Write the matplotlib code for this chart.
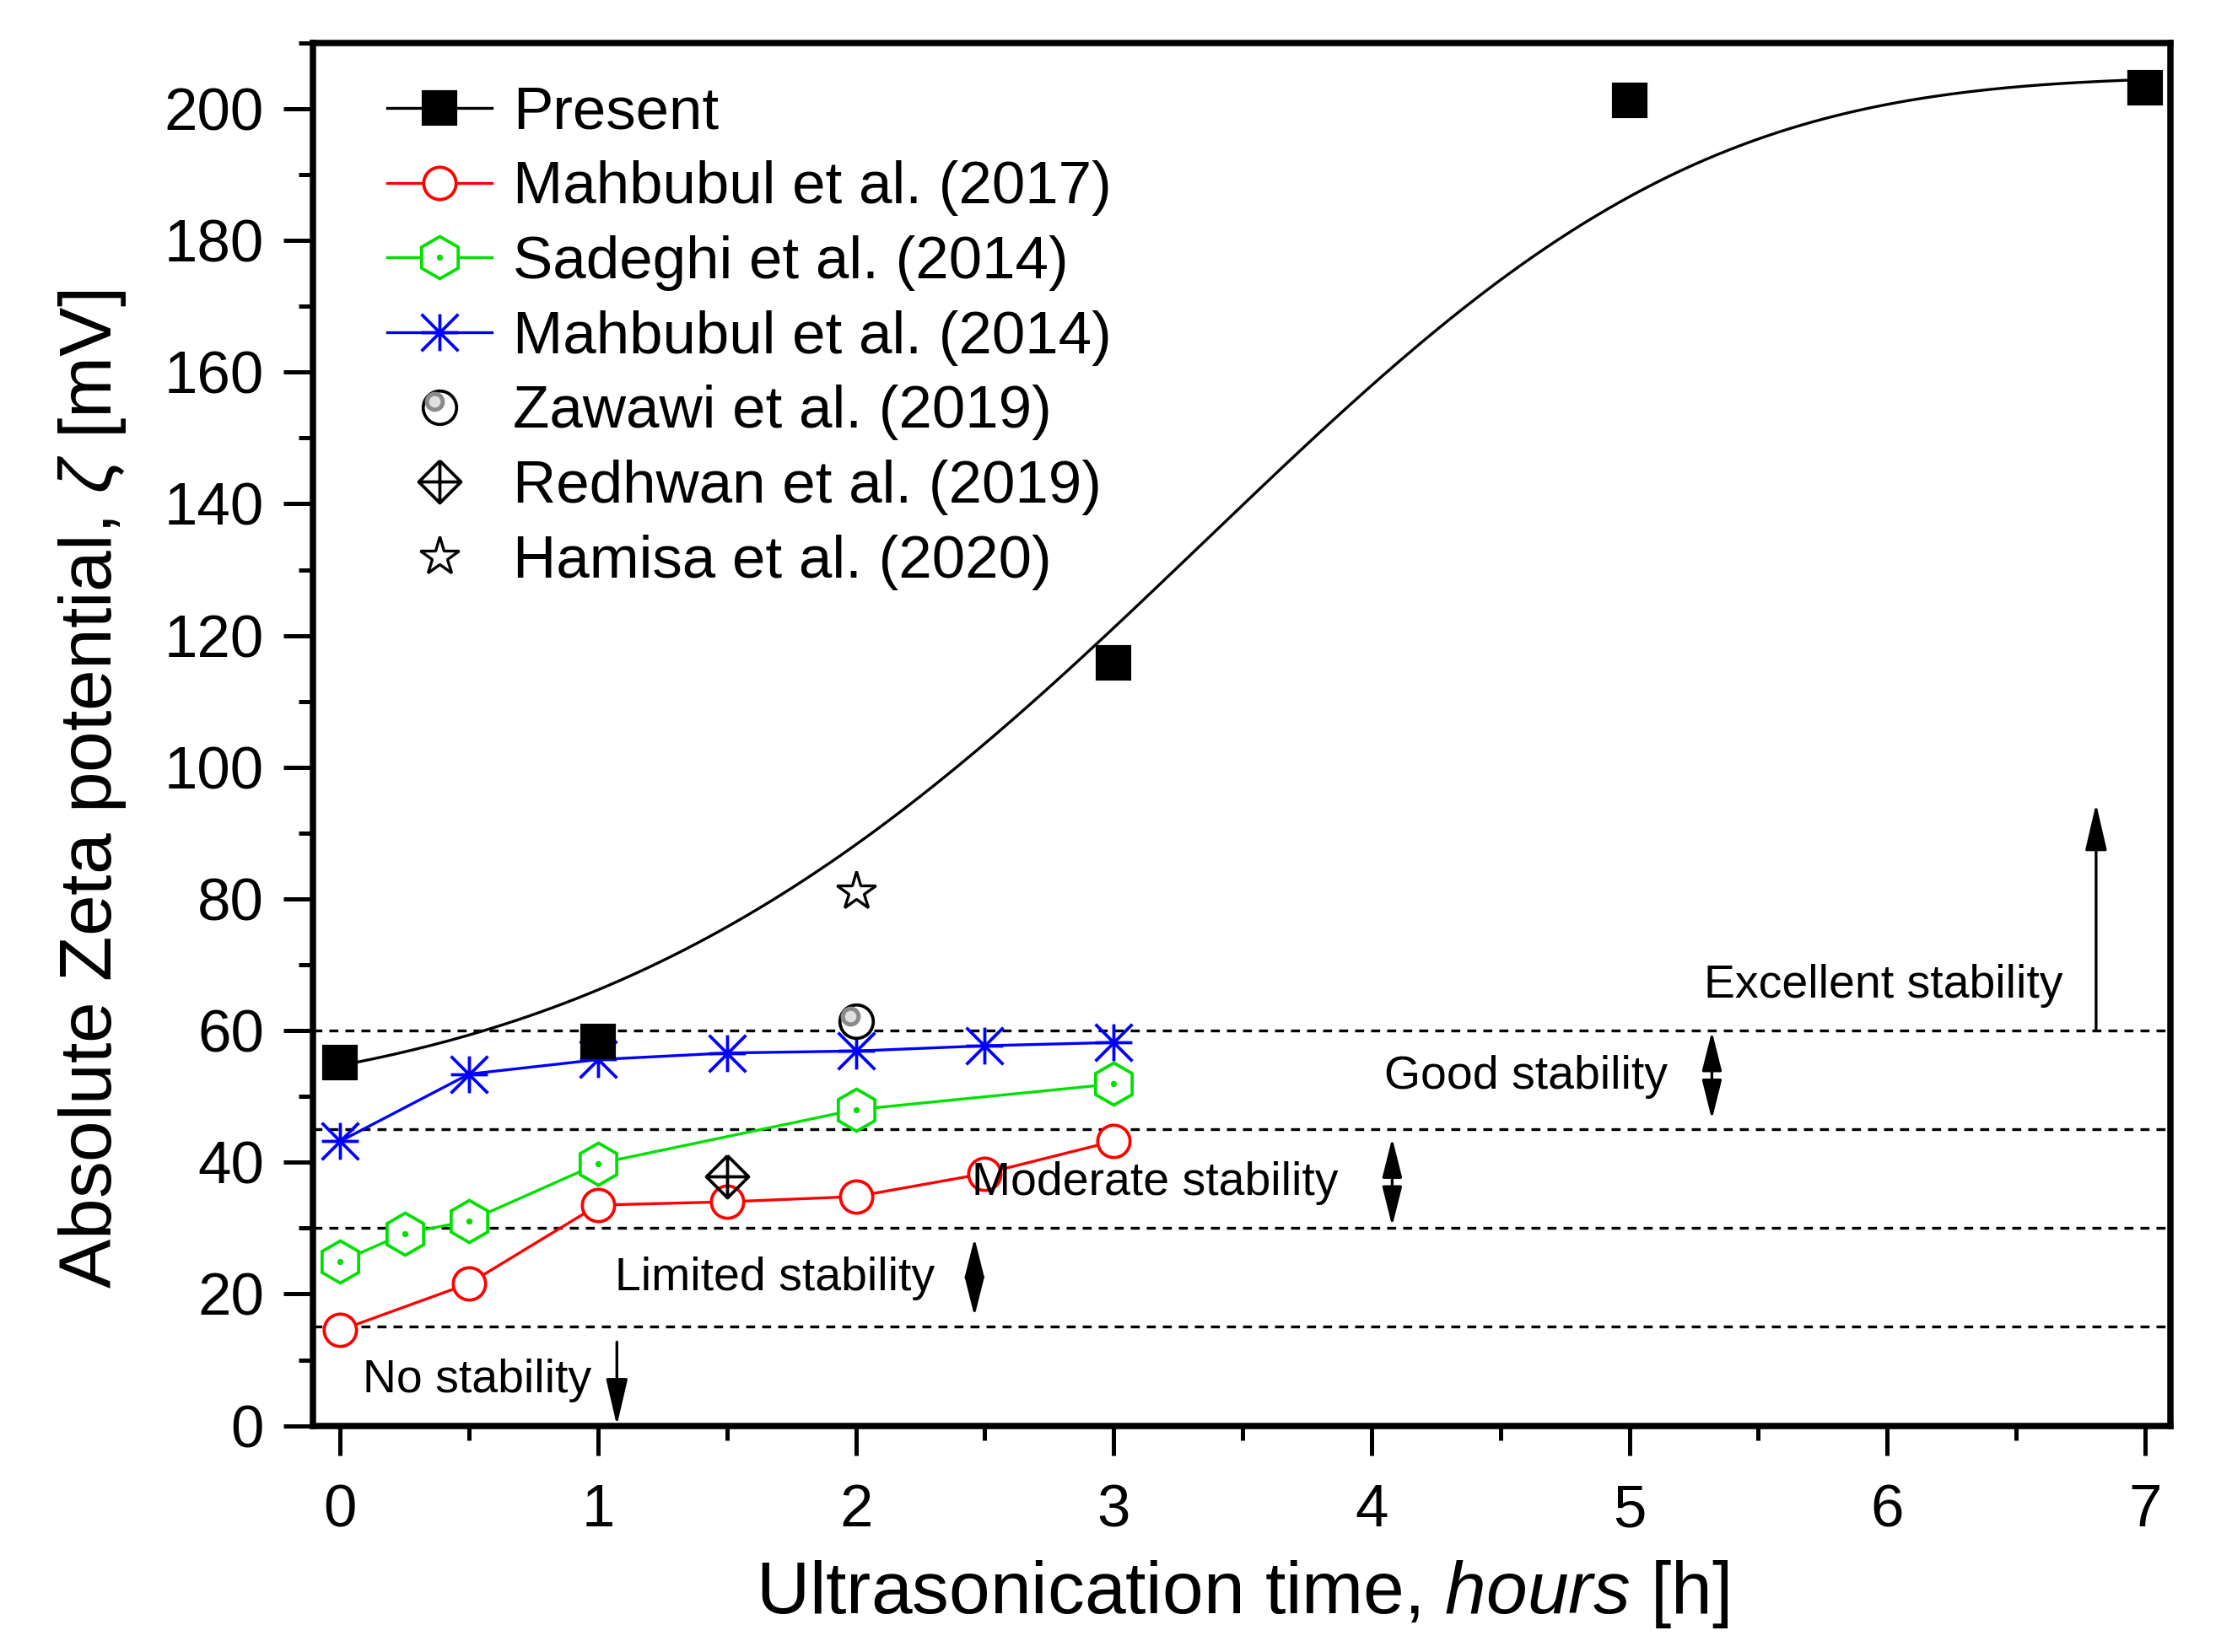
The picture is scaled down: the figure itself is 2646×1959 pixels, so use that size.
import numpy as np
import matplotlib.pyplot as plt
from matplotlib.path import Path
from matplotlib.lines import Line2D
from matplotlib.legend_handler import HandlerTuple
import matplotlib.transforms as mtransforms

plt.rcParams['font.family'] = ['Liberation Sans', 'DejaVu Sans']
plt.rcParams['mathtext.fontset'] = 'custom'
plt.rcParams['mathtext.rm'] = 'Liberation Sans'
plt.rcParams['mathtext.it'] = 'Liberation Sans:italic'

# data
present_x = [0, 1, 3, 5, 7]
present_y = [55.1, 58.3, 115.9, 201.3, 203.2]
# sigmoid fit line drawn for "Present" (Weibull form, parameters)
fit_A1, fit_A2, fit_xs, fit_c, fit_n = 48.6, 204.93, -4.003, 7.708, 4.917

mah17_x = [0, 0.5, 1, 1.5, 2, 2.5, 3]
mah17_y = [14.5, 21.6, 33.5, 34.0, 34.8, 38.3, 43.2]

sad14_x = [0, 0.25, 0.5, 1, 2, 3]
sad14_y = [24.9, 29.2, 31.1, 39.8, 48.0, 51.9]

mah14_x = [0, 0.5, 1, 1.5, 2, 2.5, 3]
mah14_y = [43.2, 53.4, 55.6, 56.6, 56.9, 57.7, 58.2]

zaw_x, zaw_y = [2], [61.4]
red_x, red_y = [1.5], [37.8]
ham_x, ham_y = [2], [81.2]

levels = [15, 30, 45, 60]

fig = plt.figure(figsize=(8.82, 6.53), dpi=300)
ax = fig.add_axes([0.1403, 0.137, 0.8323, 0.837])

# custom markers
ast = Path([(0, -1), (0, 1), (-1, 0), (1, 0), (-1, -1), (1, 1), (-1, 1), (1, -1)],
           [Path.MOVETO, Path.LINETO] * 4)
dia = Path([(0, 1), (1, 0), (0, -1), (-1, 0), (0, 1), (0, 1), (0, -1), (-1, 0), (1, 0)],
           [Path.MOVETO, Path.LINETO, Path.LINETO, Path.LINETO, Path.LINETO,
            Path.MOVETO, Path.LINETO, Path.MOVETO, Path.LINETO])

lw = 0.8
for y in levels:
    ax.axhline(y, color='k', lw=0.8, dashes=(3.2, 2.5), zorder=1)

xf = np.linspace(0, 7, 300)
yf = fit_A1 + (fit_A2 - fit_A1) * (1 - np.exp(-((xf - fit_xs) / fit_c) ** fit_n))
ax.plot(xf, yf, color='k', lw=lw, zorder=2)
ax.plot(present_x, present_y, 's', color='k', ms=9, zorder=5)

green = '#00e000'
ax.plot(mah17_x, mah17_y, '-o', color='red', lw=lw, ms=9.2, mfc='white', mew=0.9, zorder=3)
ax.plot(sad14_x, sad14_y, '-h', color=green, lw=lw, ms=12, mfc='white', mew=0.9, zorder=3)
ax.plot(sad14_x, sad14_y, '.', color=green, ms=1.5, zorder=4)
ax.plot(mah14_x, mah14_y, '-', color='blue', lw=lw, marker=ast, ms=10.5, mew=0.9, zorder=3)

ax.plot(zaw_x, zaw_y, 'o', ms=9.5, mfc='white', mec='k', mew=0.9, zorder=4)
off = mtransforms.offset_copy(ax.transData, fig=fig, x=-1.6, y=1.5, units='points')
ax.plot(zaw_x, zaw_y, 'o', ms=4.5, mfc='#e0e0e0', mec='#8a8a8a', mew=1.2, transform=off, zorder=5)
ax.plot(red_x, red_y, linestyle='none', marker=dia, ms=12, mfc='none', mec='k', mew=0.9, zorder=4)
ax.plot(ham_x, ham_y, '*', ms=11.5, mfc='white', mec='k', mew=0.8, zorder=4)

# stability annotations
tfs = 13.3
ax.text(0.088, 6.9, 'No stability', fontsize=tfs, va='center', ha='left')
ax.text(1.065, 22.3, 'Limited stability', fontsize=tfs, va='center', ha='left')
ax.text(2.45, 36.8, 'Moderate stability', fontsize=tfs, va='center', ha='left')
ax.text(4.05, 53.0, 'Good stability', fontsize=tfs, va='center', ha='left')
ax.text(5.29, 66.8, 'Excellent stability', fontsize=tfs, va='center', ha='left')

ap1 = dict(arrowstyle='-|>,head_length=0.95,head_width=0.22', color='k', lw=0.8,
           shrinkA=0, shrinkB=0, mutation_scale=12)
ap2 = dict(arrowstyle='<|-|>,head_length=0.8,head_width=0.2', color='k', lw=0.8,
           shrinkA=0, shrinkB=0, mutation_scale=12)
ax.annotate('', xy=(1.073, 0), xytext=(1.073, 12.7), arrowprops=ap1)
ax.annotate('', xy=(2.46, 16.6), xytext=(2.46, 28.5), arrowprops=ap2)
ax.annotate('', xy=(4.08, 30.3), xytext=(4.08, 43.7), arrowprops=ap2)
ax.annotate('', xy=(5.32, 46.5), xytext=(5.32, 59.9), arrowprops=ap2)
ax.annotate('', xy=(6.81, 94.5), xytext=(6.81, 60), arrowprops=ap1)

ax.set_xlim(-0.105, 7.10)
ax.set_ylim(0, 210)
ax.set_xticks(range(0, 8))
ax.set_xticks(np.arange(0.5, 7.5, 1), minor=True)
ax.set_yticks(range(0, 201, 20))
ax.set_yticks(range(10, 211, 20), minor=True)
ax.tick_params(which='major', length=8.5, width=1.2, labelsize=17)
ax.tick_params(axis='x', which='major', pad=8)
ax.tick_params(axis='y', which='major', pad=5.5)
ax.tick_params(which='minor', length=4, width=1.2)
for s in ax.spines.values():
    s.set_linewidth(1.8)

ax.set_xlabel('Ultrasonication time, $\\it{hours}$ [h]', fontsize=21, labelpad=5.5)
ax.set_ylabel('Absolute Zeta potential, $\\zeta$ [mV]', fontsize=21)
ax.yaxis.set_label_coords(-0.0996, 0.46)

# legend
h_pres = Line2D([], [], color='k', lw=lw, marker='s', ms=9)
h_m17 = Line2D([], [], color='red', lw=lw, marker='o', ms=9.2, mfc='white', mew=0.9)
h_s14 = Line2D([], [], color=green, lw=lw, marker='h', ms=12, mfc='white', mew=0.9)
h_s14d = Line2D([], [], color=green, lw=0, marker='.', ms=1.5)
h_m14 = Line2D([], [], color='blue', lw=lw, marker=ast, ms=10.5, mew=0.9)
h_zaw = Line2D([], [], lw=0, marker='o', ms=9.5, mfc='white', mec='k', mew=0.9)
h_red = Line2D([], [], lw=0, marker=dia, ms=12, mfc='none', mec='k', mew=0.9)
h_ham = Line2D([], [], lw=0, marker='*', ms=11.5, mfc='white', mec='k', mew=0.8)
labels = ['Present', 'Mahbubul et al. (2017)', 'Sadeghi et al. (2014)',
          'Mahbubul et al. (2014)', 'Zawawi et al. (2019)', 'Redhwan et al. (2019)',
          'Hamisa et al. (2020)']
leg = ax.legend([h_pres, h_m17, (h_s14, h_s14d), h_m14, h_zaw, h_red, h_ham], labels,
                handler_map={tuple: HandlerTuple(ndivide=1, pad=0)},
                loc='upper left', bbox_to_anchor=(0.04, 0.969), frameon=False, fontsize=17,
                handlelength=1.75, handletextpad=0.35, labelspacing=0.32,
                borderpad=0, borderaxespad=0)

# grey highlight inside the Zawawi legend circle
fig.canvas.draw()
zh = leg.legend_handles[4]
hx = np.mean(zh.get_xdata())
hy = np.mean(zh.get_ydata())
pt = zh.get_transform().transform((hx, hy))
inner = Line2D([pt[0]], [pt[1]], lw=0, marker='o', ms=4.5, mfc='#e0e0e0', mec='#8a8a8a', mew=1.2,
               transform=mtransforms.offset_copy(mtransforms.IdentityTransform(), fig=fig,
                                                 x=-1.6, y=1.5, units='points'))
fig.add_artist(inner)
fig.savefig('out.png', dpi=300)
